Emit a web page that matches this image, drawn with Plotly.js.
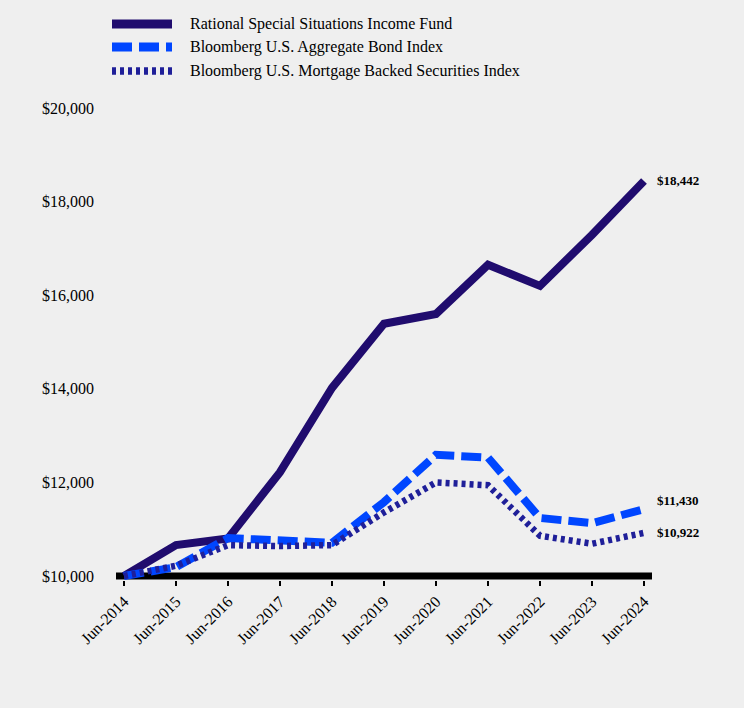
<!DOCTYPE html>
<html>
<head>
<meta charset="utf-8">
<script src="https://cdn.plot.ly/plotly-3.0.1.min.js"></script>
<style>html,body{margin:0;padding:0;background:#efefef;}#chart{width:744px;height:708px;}</style>
</head>
<body>
<div id="chart"></div>
<script>
const categories = ["Jun-2014","Jun-2015","Jun-2016","Jun-2017","Jun-2018","Jun-2019","Jun-2020","Jun-2021","Jun-2022","Jun-2023","Jun-2024"];
const seriesNames = ["Rational Special Situations Income Fund","Bloomberg U.S. Aggregate Bond Index","Bloomberg U.S. Mortgage Backed Securities Index"];
const fundValues = [10000,10660,10800,12220,14020,15390,15600,16650,16200,17290,18442];
const aggValues  = [10000,10190,10810,10770,10710,11580,12590,12530,11240,11130,11430];
const mbsValues  = [10000,10220,10660,10640,10660,11360,12000,11940,10860,10690,10922];
const yTicks = [10000,12000,14000,16000,18000,20000];

const colors = ["#200c6e","#0046ff","#1f1f99"];
const dashes = ["solid","20px,7px","4px,4px"];
const widths = [8,8,6.5];
const allValues = [fundValues, aggValues, mbsValues];

const serif = "'Liberation Serif','Times New Roman',serif";

const traces = allValues.map((v,i)=>({
  type:'scatter', mode:'lines', x:categories, y:v, name:seriesNames[i],
  line:{color:colors[i], width:widths[i], dash:dashes[i]}, showlegend:false,
  hoverinfo:'skip'
}));

const fmt = n => '$' + n.toLocaleString('en-US');
const endShift = [0, 9, 0];
const annotations = allValues.map((v,i)=>({
  x:categories[categories.length-1], y:v[v.length-1], xref:'x', yref:'y',
  text:'<b>'+fmt(v[v.length-1])+'</b>', showarrow:false, xanchor:'left', yanchor:'middle',
  xshift:11, yshift:endShift[i], font:{family:serif, size:13, color:'#000'}
}));

// plot area: left 116, right 652, top 108, bottom 580 (height 472)
const legendY = [24,47,71];
const shapes = [];
seriesNames.forEach((n,i)=>{
  const yy = (580-legendY[i])/472;
  shapes.push({type:'line', xref:'paper', yref:'paper',
    x0:(112-116)/536, x1:(172-116)/536, y0:yy, y1:yy,
    line:{color:colors[i], width:widths[i]+1, dash:dashes[i]}});
  annotations.push({xref:'paper', yref:'paper', x:(188-116)/536, y:yy,
    text:n, showarrow:false, xanchor:'left', yanchor:'middle',
    font:{family:serif, size:16, color:'#000'}});
});
shapes.push({type:'line', xref:'paper', yref:'y', x0:0, x1:1, y0:10000, y1:10000,
  line:{color:'#000', width:7}, layer:'below'});

const layout = {
  width:744, height:708,
  paper_bgcolor:'#efefef', plot_bgcolor:'#efefef',
  margin:{l:116, r:92, t:108, b:128},
  showlegend:false,
  font:{family:serif, size:16, color:'#000'},
  xaxis:{type:'category', range:[-0.154,10.154], showgrid:false, zeroline:false, showline:false,
    ticks:'outside', ticklen:5, tickwidth:2, tickcolor:'#000', tickangle:-45,
    tickfont:{family:serif, size:16, color:'#000'}, fixedrange:true},
  yaxis:{range:[9915,20000], tickvals:yTicks, ticktext:yTicks.map(fmt), showgrid:false,
    zeroline:false, showline:false, ticks:'', ticklabelstandoff:21,
    tickfont:{family:serif, size:16, color:'#000'}, fixedrange:true},
  shapes:shapes, annotations:annotations
};

Plotly.newPlot('chart', traces, layout, {displayModeBar:false, staticPlot:true});
</script>
</body>
</html>
